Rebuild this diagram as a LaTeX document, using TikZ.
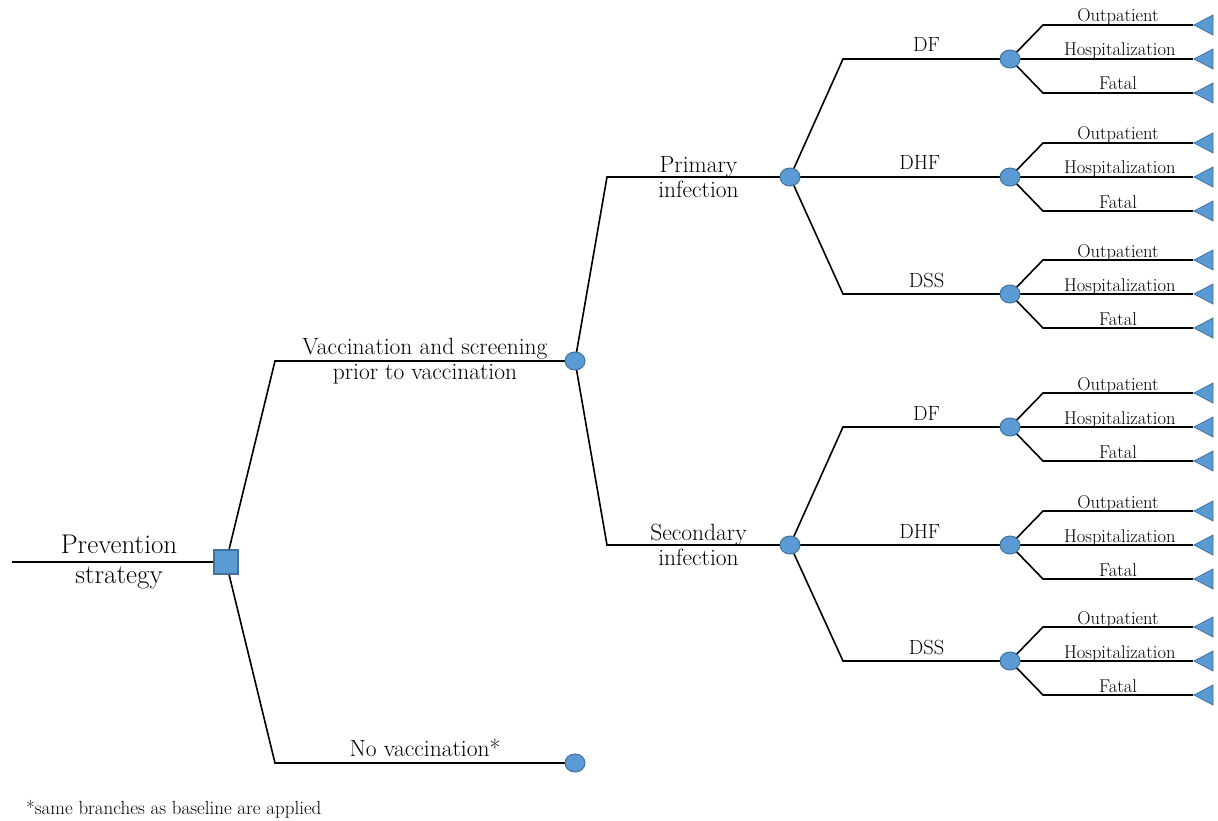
\documentclass[tikz,border=0pt]{standalone}
\usepackage{tikz}
\usetikzlibrary{shapes}

\definecolor{nodeblue}{RGB}{91,155,213}
\definecolor{nodeedge}{RGB}{65,113,156}

\begin{document}
\begin{tikzpicture}[x=1pt,y=-1pt,line width=1.6pt,
  decision/.style={rectangle,draw=nodeedge,fill=nodeblue,line width=1.2pt,minimum size=24pt,inner sep=0pt},
  chance/.style={ellipse,draw=nodeedge,fill=nodeblue,line width=1pt,minimum width=20pt,minimum height=18pt,inner sep=0pt},
  terminal/.style={isosceles triangle,isosceles triangle stretches,shape border rotate=180,
                   draw=nodeedge,fill=nodeblue,line width=0.8pt,minimum height=19pt,minimum width=20pt,inner sep=0pt},
  outcome/.style={font=\fontsize{18.5}{22}\selectfont,anchor=base,yshift=3pt},
  disease/.style={font=\fontsize{20.5}{24}\selectfont,anchor=base,yshift=7pt},
  branch/.style={font=\fontsize{23.5}{25}\selectfont,align=center}]
\clip (0,0) rectangle (1218,821);

\coordinate (root) at (12,562);
\coordinate (strategy) at (226,562);
\coordinate (vacc) at (575,361);
\coordinate (novacc) at (575,763);
\coordinate (primary) at (790,177);
\coordinate (secondary) at (790,545);
\coordinate (df1) at (1010,59);
\coordinate (dhf1) at (1010,177);
\coordinate (dss1) at (1010,294);
\coordinate (df2) at (1010,427);
\coordinate (dhf2) at (1010,545);
\coordinate (dss2) at (1010,661);

% decision and first chance
\draw (root) -- node[branch,font=\fontsize{27}{30}\selectfont]{Prevention\\strategy} (strategy);
\draw (strategy) -- ([xshift=-300pt]vacc) -- node[branch]{Vaccination and screening\\prior to vaccination} (vacc);
\draw (strategy) -- ([xshift=-300pt]novacc) -- node[branch,anchor=base,yshift=7pt]{No vaccination*} (novacc);

% infection
\draw (vacc) -- ([xshift=-183pt]primary) -- node[branch]{Primary\\infection} (primary);
\draw (vacc) -- ([xshift=-183pt]secondary) -- node[branch]{Secondary\\infection} (secondary);

% disease
\draw (primary) -- ([xshift=-167pt]df1) -- node[disease]{DF} (df1);
\draw (primary) -- node[disease,pos=0.59]{DHF} (dhf1);
\draw (primary) -- ([xshift=-167pt]dss1) -- node[disease]{DSS} (dss1);
\draw (secondary) -- ([xshift=-167pt]df2) -- node[disease]{DF} (df2);
\draw (secondary) -- node[disease,pos=0.59]{DHF} (dhf2);
\draw (secondary) -- ([xshift=-167pt]dss2) -- node[disease]{DSS} (dss2);

% outcomes
\foreach \d in {df1,dhf1,dss1,df2,dhf2,dss2}{
  \node[terminal,anchor=apex] (\d-out) at ([shift={(183,-34)}]\d) {};
  \node[terminal,anchor=apex] (\d-hosp) at ([shift={(183,0)}]\d) {};
  \node[terminal,anchor=apex] (\d-fatal) at ([shift={(183,34)}]\d) {};
  \draw (\d) -- ([shift={(33,-34)}]\d) -- node[outcome]{Outpatient} (\d-out.apex);
  \draw (\d) -- node[outcome,pos=0.6]{Hospitalization} (\d-hosp.apex);
  \draw (\d) -- ([shift={(33,34)}]\d) -- node[outcome]{Fatal} (\d-fatal.apex);
}

\node[decision] (strategynode) at (strategy) {};
\foreach \c in {vacc,novacc,primary,secondary,df1,dhf1,dss1,df2,dhf2,dss2}
  \node[chance] (\c-node) at (\c) {};

\node[font=\fontsize{19}{22}\selectfont,anchor=base west] (note) at (22,814) {*same branches as baseline are applied};
\end{tikzpicture}
\end{document}
